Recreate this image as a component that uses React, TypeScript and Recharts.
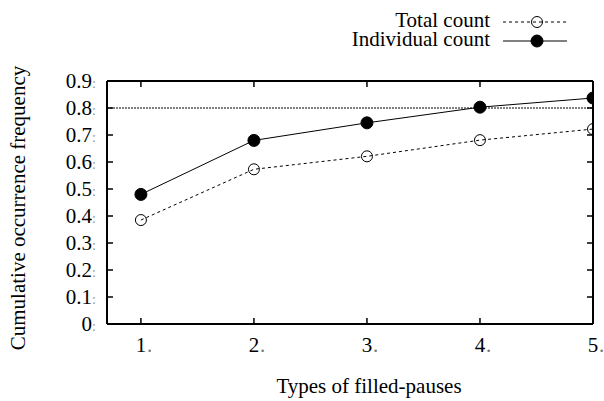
import { LineChart, Line, XAxis, YAxis, ReferenceLine } from 'recharts'

const types = [1, 2, 3, 4, 5]
const totalCount = [0.385, 0.573, 0.621, 0.681, 0.722]
const individualCount = [0.48, 0.68, 0.745, 0.803, 0.837]
const yTicks = [0, 0.1, 0.2, 0.3, 0.4, 0.5, 0.6, 0.7, 0.8, 0.9]
const xDomain: [number, number] = [0.7, 5]
const yDomain: [number, number] = [0, 0.9]
const threshold = 0.8

const FONT = '"Liberation Serif", "Times New Roman", serif'
const FS = 21

const W = 604
const H = 401
const MARGIN = { top: 81, right: 11, bottom: 17, left: 47 }
const X_AXIS_H = 60
const Y_AXIS_W = 60
const PLOT_TOP = MARGIN.top
const PLOT_BOTTOM = H - MARGIN.bottom - X_AXIS_H
const PLOT_LEFT = MARGIN.left + Y_AXIS_W
const PLOT_RIGHT = W - MARGIN.right

const data = types.map((t, i) => ({
  type: t,
  total: totalCount[i],
  individual: individualCount[i],
}))

const series = [
  { key: 'total', name: 'Total count', dash: '3 3', filled: false },
  { key: 'individual', name: 'Individual count', dash: undefined, filled: true },
]

// legend, axis titles and plot border, drawn over the chart
function Overlay() {
  return (
    <svg
      width={W}
      height={H}
      style={{ position: 'absolute', left: 0, top: 0, pointerEvents: 'none', zIndex: 5 }}
      fontFamily={FONT}
      fontSize={FS}
    >
      <line x1={PLOT_LEFT} x2={PLOT_RIGHT} y1={PLOT_TOP} y2={PLOT_TOP} stroke="#000" strokeWidth={2} />
      <line x1={PLOT_RIGHT} x2={PLOT_RIGHT} y1={PLOT_TOP} y2={PLOT_BOTTOM} stroke="#000" strokeWidth={2} />
      {series.map((s, i) => {
        const cy = 22 + i * 19
        return (
          <g key={s.key}>
            <text x={490} y={cy + 5} textAnchor="end" fill="#000">
              {s.name}
            </text>
            <line x1={503} x2={567} y1={cy} y2={cy} stroke="#000" strokeDasharray={s.dash} />
            <circle
              cx={537}
              cy={cy}
              r={s.filled ? 6 : 5.5}
              fill={s.filled ? '#000' : 'none'}
              stroke="#000"
            />
          </g>
        )
      })}
      <text x={369} y={393} textAnchor="middle" fill="#000">
        Types of filled-pauses
      </text>
      <text transform="translate(25,208) rotate(-90)" textAnchor="middle" fill="#000">
        Cumulative occurrence frequency
      </text>
    </svg>
  )
}

// inward tick marks on all four sides, gnuplot style
const BottomTick = (props: any) => {
  const { x, payload } = props
  return (
    <g>
      <line x1={x} x2={x} y1={PLOT_BOTTOM} y2={PLOT_BOTTOM - 6} stroke="#000" strokeWidth={1.5} />
      <line x1={x} x2={x} y1={PLOT_TOP} y2={PLOT_TOP + 6} stroke="#000" strokeWidth={1.5} />
      <text x={x} y={352} textAnchor="middle" fontSize={FS} fontFamily={FONT} fill="#000">
        {payload.value}
      </text>
      <text x={x + 6} y={352} fontSize={FS} fontFamily={FONT} fill="#777">
        .
      </text>
    </g>
  )
}

const LeftTick = (props: any) => {
  const { y, payload } = props
  return (
    <g>
      <line x1={PLOT_LEFT} x2={PLOT_LEFT + 6} y1={y} y2={y} stroke="#000" strokeWidth={1.5} />
      <line x1={PLOT_RIGHT} x2={PLOT_RIGHT - 6} y1={y} y2={y} stroke="#000" strokeWidth={1.5} />
      <text x={PLOT_LEFT - 15} y={y + 7} textAnchor="end" fontSize={FS} fontFamily={FONT} fill="#000">
        {String(payload.value)}
      </text>
      <text x={PLOT_LEFT - 15} y={y + 7} fontSize={14} fontFamily={FONT} fill="#999">
        :
      </text>
    </g>
  )
}

export default function App() {
  return (
    <div style={{ position: 'absolute', left: 0, top: 0, width: W, height: H, background: '#fff' }}>
      <LineChart width={W} height={H} data={data} margin={MARGIN} style={{ fontFamily: FONT }}>
        <XAxis
          dataKey="type"
          type="number"
          domain={xDomain}
          ticks={types}
          interval={0}
          allowDataOverflow
          height={X_AXIS_H}
          stroke="#000"
          strokeWidth={2}
          tickLine={false}
          tick={<BottomTick />}
        />
        <YAxis
          yAxisId="left"
          type="number"
          domain={yDomain}
          ticks={yTicks}
          interval={0}
          width={Y_AXIS_W}
          stroke="#000"
          strokeWidth={2}
          tickLine={false}
          tick={<LeftTick />}
        />
        <ReferenceLine
          yAxisId="left"
          y={threshold}
          stroke="#000"
          strokeWidth={1}
          strokeDasharray="2 1"
        />
        <Line
          yAxisId="left"
          dataKey="total"
          name="Total count"
          stroke="#000"
          strokeWidth={1}
          strokeDasharray="3 3"
          dot={{ r: 5.5, fill: 'none', stroke: '#000', strokeWidth: 1, strokeDasharray: '0' }}
          isAnimationActive={false}
        />
        <Line
          yAxisId="left"
          dataKey="individual"
          name="Individual count"
          stroke="#000"
          strokeWidth={1}
          dot={{ r: 6, fill: '#000', stroke: '#000', strokeWidth: 1 }}
          isAnimationActive={false}
        />
      </LineChart>
      <Overlay />
    </div>
  )
}
